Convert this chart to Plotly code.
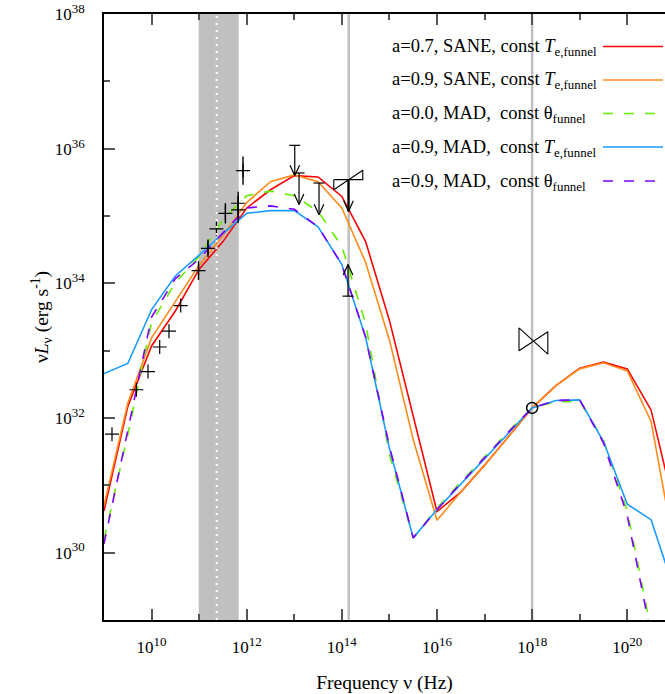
import numpy as np
import plotly.graph_objects as go

# ---------------- data (log10 values) ----------------
log_nu_grid = [9.0, 9.5, 10.0, 10.5, 11.0, 11.5, 12.0, 12.5, 13.0, 13.5, 14.0, 14.5,
               15.0, 15.5, 16.0, 16.5, 17.0, 17.5, 18.0, 18.5, 19.0, 19.5, 20.0, 20.5, 21.0]

sane07_te = [30.62, 32.17, 33.07, 33.59, 34.21, 34.62, 35.12, 35.39, 35.60, 35.58, 35.29, 34.62,
             33.45, 32.05, 30.61, 30.90, 31.30, 31.72, 32.15, 32.48, 32.74, 32.83, 32.73, 32.12, 30.64]
sane09_te = [30.70, 32.22, 33.19, 33.72, 34.27, 34.71, 35.20, 35.51, 35.61, 35.51, 35.12, 34.31,
             33.16, 31.68, 30.48, 30.90, 31.30, 31.72, 32.15, 32.48, 32.73, 32.82, 32.70, 31.95, 30.02]
mad00_th = [30.20, 31.75, 33.42, 34.01, 34.40, 34.95, 35.30, 35.37, 35.30, 35.07, 34.55, 33.40,
            31.46, 30.22, 30.66, 31.05, 31.42, 31.80, 32.15, 32.24, 32.25, 31.67, 30.62, 28.85, 27.50]
mad09_te = [32.66, 32.81, 33.61, 34.11, 34.42, 34.74, 35.04, 35.08, 35.08, 34.84, 34.28, 33.20,
            31.55, 30.22, 30.64, 31.02, 31.40, 31.78, 32.15, 32.26, 32.27, 31.65, 30.72, 30.49, 29.42]
mad09_th = [30.13, 31.82, 33.50, 34.07, 34.36, 34.75, 35.12, 35.15, 35.10, 34.84, 34.28, 33.20,
            31.58, 30.22, 30.64, 31.03, 31.41, 31.79, 32.15, 32.26, 32.27, 31.63, 30.55, 28.71, 27.00]

series_names = [
    "a=0.7, SANE, const <i>T</i><sub>e,funnel</sub>",
    "a=0.9, SANE, const <i>T</i><sub>e,funnel</sub>",
    "a=0.0, MAD,\u00a0 const \u03b8<sub>funnel</sub>",
    "a=0.9, MAD,\u00a0 const <i>T</i><sub>e,funnel</sub>",
    "a=0.9, MAD,\u00a0 const \u03b8<sub>funnel</sub>",
]
series_values = [sane07_te, sane09_te, mad00_th, mad09_te, mad09_th]
series_colors = ["#ff0000", "#ff8c1a", "#66ee00", "#1a9cff", "#8000ff"]
series_dash = ["solid", "solid", "dash", "solid", "dash"]

# observed points (log10 nu, log10 nuLnu, error in dex)
obs_nu = [9.168, 9.681, 9.925, 10.171, 10.366, 10.612, 10.987, 11.186, 11.363, 11.552, 11.82, 11.82, 11.922]
obs_L = [31.76, 32.42, 32.69, 33.055, 33.29, 33.67, 34.19, 34.52, 34.81, 35.04, 35.19, 35.09, 35.675]
obs_err = [0.0, 0.0, 0.0, 0.0, 0.0, 0.0, 0.14, 0.13, 0.0, 0.15, 0.17, 0.195, 0.21]

# upper limits (downward arrows)
ul_nu = [13.01, 13.10, 13.52, 14.14]
ul_top = [36.05, 35.64, 35.49, 35.54]
ul_tip = [35.60, 35.17, 35.02, 35.07]
ul_cap = [True, True, True, False]

# lower limit (upward arrow)
ll_nu = [14.13]
ll_bottom = [33.81]
ll_tip = [34.28]

# NIR bow tie
nir_nu = [13.83, 14.44]
nir_flat = [35.54, 35.54]
nir_steep = [35.39, 35.68]

# X-ray bow tie
xr_nu = [17.724, 18.33]
xr_a = [33.34, 32.95]
xr_b = [33.00, 33.28]

# X-ray point
xpt_nu = [18.0]
xpt_L = [32.15]

# shaded band / reference lines (log10 Hz)
band_nu = [10.99, 11.832]
eht_nu = 11.369
vline_nu = [14.144, 18.0]

x_ticks = [10, 12, 14, 16, 18, 20]
y_ticks = [30, 32, 34, 36, 38]

# ---------------- layout constants ----------------
W, H = 665, 694
PL, PR, PT, PB = 104, 665, 14, 620   # plot area in page pixels
XR = [9.0, 9.0 + (PR - PL) / 47.57]
YR = [29.0, 38.0]
PXX = (PR - PL) / (XR[1] - XR[0])
PXY = (PB - PT) / (YR[1] - YR[0])
FONT = "Liberation Serif, Times New Roman, serif"

def P(v):
    return 10 ** np.asarray(v, dtype=float)

def tick_text(e):
    return f"10<sup><span style='font-size:13px'>{e}</span></sup>"

fig = go.Figure()

# model curves
for name, vals, col, dash in zip(series_names, series_values, series_colors, series_dash):
    fig.add_trace(go.Scatter(
        x=P(log_nu_grid), y=P(vals), mode="lines", name=name,
        line=dict(color=col, width=1.6, dash="10px,11px" if dash == "dash" else "solid"),
        showlegend=False, hoverinfo="skip"))

# observed points with error bars
fig.add_trace(go.Scatter(
    x=P(obs_nu), y=P(obs_L), mode="markers", showlegend=False,
    marker=dict(symbol="cross-thin", size=10, line=dict(color="black", width=1.2)),
    error_y=dict(type="data", symmetric=False,
                 array=list(P(np.array(obs_L) + np.array(obs_err)) - P(obs_L)),
                 arrayminus=list(P(obs_L) - P(np.array(obs_L) - np.array(obs_err))),
                 color="black", thickness=1.4, width=0)))

# arrows (upper and lower limits)
dx_head = 4.8 / PXX
dy_head = 10.5 / PXY
dx_cap = 5.5 / PXX
ax, ay = [], []
for nu, top, tip, cap in zip(ul_nu, ul_top, ul_tip, ul_cap):
    ax += [nu, nu, None]; ay += [top, tip, None]
    ax += [nu - dx_head, nu, nu + dx_head, None]; ay += [tip + dy_head, tip, tip + dy_head, None]
    if cap:
        ax += [nu - dx_cap, nu + dx_cap, None]; ay += [top, top, None]
for nu, bot, tip in zip(ll_nu, ll_bottom, ll_tip):
    ax += [nu, nu, None]; ay += [bot, tip, None]
    ax += [nu - dx_head, nu, nu + dx_head, None]; ay += [tip - dy_head, tip, tip - dy_head, None]
    ax += [nu - dx_cap, nu + dx_cap, None]; ay += [bot, bot, None]
fig.add_trace(go.Scatter(
    x=[None if v is None else 10 ** v for v in ax],
    y=[None if v is None else 10 ** v for v in ay],
    mode="lines", line=dict(color="black", width=1.2), showlegend=False, hoverinfo="skip"))
# thicker shaft for the K-band limit
fig.add_trace(go.Scatter(x=P([ul_nu[3], ul_nu[3]]), y=P([ul_top[3], ul_tip[3]]), mode="lines",
                         line=dict(color="black", width=2.2), showlegend=False, hoverinfo="skip"))

# bow ties
bx = [nir_nu[0], nir_nu[1], nir_nu[1], nir_nu[0], nir_nu[0]]
by = [nir_flat[0], nir_flat[1], nir_steep[1], nir_steep[0], nir_flat[0]]
fig.add_trace(go.Scatter(x=P(bx), y=P(by), mode="lines", line=dict(color="black", width=1.1),
                         showlegend=False, hoverinfo="skip"))
bx = [xr_nu[0], xr_nu[1], xr_nu[1], xr_nu[0], xr_nu[0]]
by = [xr_a[0], xr_a[1], xr_b[1], xr_b[0], xr_a[0]]
fig.add_trace(go.Scatter(x=P(bx), y=P(by), mode="lines", line=dict(color="black", width=1.1),
                         showlegend=False, hoverinfo="skip"))

# X-ray point
fig.add_trace(go.Scatter(x=P(xpt_nu), y=P(xpt_L), mode="markers", showlegend=False,
                         marker=dict(symbol="circle-open", size=11, color="black", line=dict(width=1.5))))

shapes = []
shapes.append(dict(type="rect", xref="x", yref="paper", x0=10 ** band_nu[0], x1=10 ** band_nu[1],
                   y0=0, y1=1, fillcolor="#c0c0c0", line=dict(width=0), layer="below"))
for v in vline_nu:
    shapes.append(dict(type="line", xref="x", yref="paper", x0=10 ** v, x1=10 ** v, y0=0, y1=1,
                       line=dict(color="#c0c0c0", width=2.5), layer="below"))
shapes.append(dict(type="line", xref="x", yref="paper", x0=10 ** eht_nu, x1=10 ** eht_nu, y0=0, y1=1,
                   line=dict(color="white", width=2, dash="2px,5px"), layer="above"))

# manual legend (text on the left, sample on the right); positions in page pixels
def px_x(px):
    return (px - PL) / (PR - PL)

def px_y(py):
    return (PB - py) / (PB - PT)

annotations = []
row_y = [47.5, 81.0, 114.5, 148.0, 182.0]
for name, col, dash, ry in zip(series_names, series_colors, series_dash, row_y):
    annotations.append(dict(text=name, xref="paper", yref="paper", x=px_x(390), y=px_y(ry),
                            xanchor="left", yanchor="middle", showarrow=False,
                            font=dict(family=FONT, size=18.5, color="black")))
    shapes.append(dict(type="line", xref="paper", yref="paper", x0=px_x(603), x1=px_x(663),
                       y0=px_y(ry - 1), y1=px_y(ry - 1),
                       line=dict(color=col, width=1.6, dash="10px,11px" if dash == "dash" else "solid")))

axis_common = dict(type="log", showgrid=False, zeroline=False, showline=True, linecolor="black",
                   linewidth=1.5, ticks="inside", ticklen=11, tickcolor="#555", tickwidth=1.5,
                   ticklabeloverflow="allow",
                   tickfont=dict(family=FONT, size=17, color="black"))

fig.update_layout(
    width=W, height=H, margin=dict(l=PL, r=W - PR, t=PT, b=H - PB, pad=0),
    paper_bgcolor="white", plot_bgcolor="white",
    xaxis=dict(axis_common, range=XR, mirror="allticks",
               tickvals=list(P(x_ticks)), ticktext=[tick_text(t) for t in x_ticks],
               ticklabelstandoff=11,
               minor=dict(tickvals=list(P([9, 11, 13, 15, 17, 19, 21])), ticklen=6, ticks="inside",
                          tickcolor="#555", tickwidth=1.5),
               title=dict(text="Frequency \u03bd (Hz)", font=dict(family=FONT, size=19.5, color="black"),
                          standoff=19)),
    yaxis=dict(axis_common, range=[YR[0], YR[1] + 0.0005],
               tickvals=list(P(y_ticks)), ticktext=[tick_text(t) for t in y_ticks],
               ticklabelstandoff=14,
               minor=dict(tickvals=list(P([29, 31, 33, 35, 37])), ticklen=6, ticks="inside",
                          tickcolor="#555", tickwidth=1.5),
               title=dict(text="\u03bd<i>L</i><sub>\u03bd</sub> (erg s<sup>-1</sup>)",
                          font=dict(family=FONT, size=19.5, color="black"), standoff=1)),
    shapes=shapes, annotations=annotations,
)

fig.write_html("out.html", config={"displayModeBar": False},
               post_script="document.body.style.margin='0';document.body.style.overflow='hidden';")
